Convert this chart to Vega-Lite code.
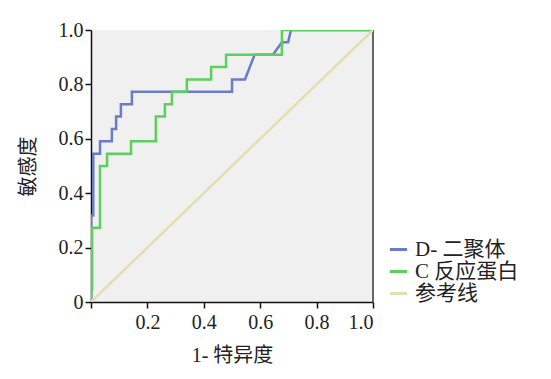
{
  "$schema": "https://vega.github.io/schema/vega-lite/v6.json",
  "autosize": "none",
  "width": 282,
  "height": 272,
  "padding": {"left": 91, "top": 30, "right": 178, "bottom": 77},
  "background": "white",
  "config": {
    "view": {"stroke": null, "fill": "#f0f0f0"},
    "font": "Liberation Serif, Noto Sans CJK SC",
    "axis": {"grid": false, "domainColor": "#111", "tickColor": "#111", "labelFont": "Liberation Serif", "labelFontSize": 20, "labelColor": "#222", "titleFont": "Liberation Serif, Noto Sans CJK SC", "titleFontSize": 20, "titleFontWeight": "normal", "titleColor": "#222", "domainWidth": 1.5, "tickWidth": 1.5, "tickSize": 6}
  },
  "datasets": {
    "roc": [
      {"s": "D- 二聚体", "i": 0, "x": 0, "y": 0},
      {"s": "D- 二聚体", "i": 1, "x": 0, "y": 0.318},
      {"s": "D- 二聚体", "i": 2, "x": 0.008, "y": 0.318},
      {"s": "D- 二聚体", "i": 3, "x": 0.008, "y": 0.545},
      {"s": "D- 二聚体", "i": 4, "x": 0.032, "y": 0.545},
      {"s": "D- 二聚体", "i": 5, "x": 0.032, "y": 0.591},
      {"s": "D- 二聚体", "i": 6, "x": 0.074, "y": 0.591},
      {"s": "D- 二聚体", "i": 7, "x": 0.074, "y": 0.636},
      {"s": "D- 二聚体", "i": 8, "x": 0.089, "y": 0.636},
      {"s": "D- 二聚体", "i": 9, "x": 0.089, "y": 0.682},
      {"s": "D- 二聚体", "i": 10, "x": 0.106, "y": 0.682},
      {"s": "D- 二聚体", "i": 11, "x": 0.106, "y": 0.727},
      {"s": "D- 二聚体", "i": 12, "x": 0.145, "y": 0.727},
      {"s": "D- 二聚体", "i": 13, "x": 0.145, "y": 0.773},
      {"s": "D- 二聚体", "i": 14, "x": 0.5, "y": 0.773},
      {"s": "D- 二聚体", "i": 15, "x": 0.5, "y": 0.818},
      {"s": "D- 二聚体", "i": 16, "x": 0.546, "y": 0.818},
      {"s": "D- 二聚体", "i": 17, "x": 0.58, "y": 0.909},
      {"s": "D- 二聚体", "i": 18, "x": 0.645, "y": 0.909},
      {"s": "D- 二聚体", "i": 19, "x": 0.677, "y": 0.955},
      {"s": "D- 二聚体", "i": 20, "x": 0.699, "y": 0.955},
      {"s": "D- 二聚体", "i": 21, "x": 0.709, "y": 1},
      {"s": "D- 二聚体", "i": 22, "x": 1, "y": 1},
      {"s": "C 反应蛋白", "i": 0, "x": 0, "y": 0},
      {"s": "C 反应蛋白", "i": 1, "x": 0, "y": 0.045},
      {"s": "C 反应蛋白", "i": 2, "x": 0.004, "y": 0.045},
      {"s": "C 反应蛋白", "i": 3, "x": 0.004, "y": 0.273},
      {"s": "C 反应蛋白", "i": 4, "x": 0.032, "y": 0.273},
      {"s": "C 反应蛋白", "i": 5, "x": 0.032, "y": 0.5},
      {"s": "C 反应蛋白", "i": 6, "x": 0.057, "y": 0.5},
      {"s": "C 反应蛋白", "i": 7, "x": 0.057, "y": 0.545},
      {"s": "C 反应蛋白", "i": 8, "x": 0.142, "y": 0.545},
      {"s": "C 反应蛋白", "i": 9, "x": 0.142, "y": 0.591},
      {"s": "C 反应蛋白", "i": 10, "x": 0.23, "y": 0.591},
      {"s": "C 反应蛋白", "i": 11, "x": 0.23, "y": 0.682},
      {"s": "C 反应蛋白", "i": 12, "x": 0.262, "y": 0.682},
      {"s": "C 反应蛋白", "i": 13, "x": 0.262, "y": 0.727},
      {"s": "C 反应蛋白", "i": 14, "x": 0.287, "y": 0.727},
      {"s": "C 反应蛋白", "i": 15, "x": 0.287, "y": 0.773},
      {"s": "C 反应蛋白", "i": 16, "x": 0.34, "y": 0.773},
      {"s": "C 反应蛋白", "i": 17, "x": 0.34, "y": 0.818},
      {"s": "C 反应蛋白", "i": 18, "x": 0.426, "y": 0.818},
      {"s": "C 反应蛋白", "i": 19, "x": 0.426, "y": 0.864},
      {"s": "C 反应蛋白", "i": 20, "x": 0.479, "y": 0.864},
      {"s": "C 反应蛋白", "i": 21, "x": 0.479, "y": 0.909},
      {"s": "C 反应蛋白", "i": 22, "x": 0.677, "y": 0.909},
      {"s": "C 反应蛋白", "i": 23, "x": 0.677, "y": 1},
      {"s": "C 反应蛋白", "i": 24, "x": 1, "y": 1},
      {"s": "参考线", "i": 0, "x": 0, "y": 0},
      {"s": "参考线", "i": 1, "x": 1, "y": 1}
    ],
    "border": [{"x": 1}]
  },
  "layer": [
    {
      "data": {"name": "border"},
      "mark": {"type": "rule", "color": "#666", "strokeWidth": 2},
      "encoding": {"x": {"field": "x", "type": "quantitative", "scale": {"domain": [0, 1]}}}
    },
    {
      "data": {"name": "roc"},
      "mark": {"type": "line", "strokeWidth": 2.5, "clip": true},
      "encoding": {
        "x": {"field": "x", "type": "quantitative", "scale": {"domain": [0, 1], "nice": false},
          "axis": {"title": "1- 特异度", "values": [0, 0.2, 0.4, 0.6, 0.8, 1], "labelExpr": "datum.value == 0 ? '' : format(datum.value, '.1f')", "titlePadding": 13, "labelPadding": 4}},
        "y": {"field": "y", "type": "quantitative", "scale": {"domain": [0, 1], "nice": false},
          "axis": {"title": "敏感度", "values": [0, 0.2, 0.4, 0.6, 0.8, 1], "labelExpr": "datum.value == 0 ? '0' : format(datum.value, '.1f')", "titlePadding": 20, "labelPadding": 2}},
        "order": {"field": "i", "type": "quantitative"},
        "color": {"field": "s", "type": "nominal",
          "scale": {"domain": ["D- 二聚体", "C 反应蛋白", "参考线"], "range": ["#6a7cc8", "#5ccf5c", "#e2dfb0"]},
          "legend": {"title": null, "orient": "none", "legendX": 297, "legendY": 209, "symbolType": "stroke", "symbolStrokeWidth": 3, "symbolSize": 300, "labelFontSize": 21, "labelFont": "Liberation Serif, Noto Sans CJK SC", "labelColor": "#222", "rowPadding": 0, "labelOffset": 6}},
        "strokeWidth": {"condition": {"test": "datum.s == '参考线'", "value": 1.8}, "value": 2.5}
      }
    }
  ]
}
